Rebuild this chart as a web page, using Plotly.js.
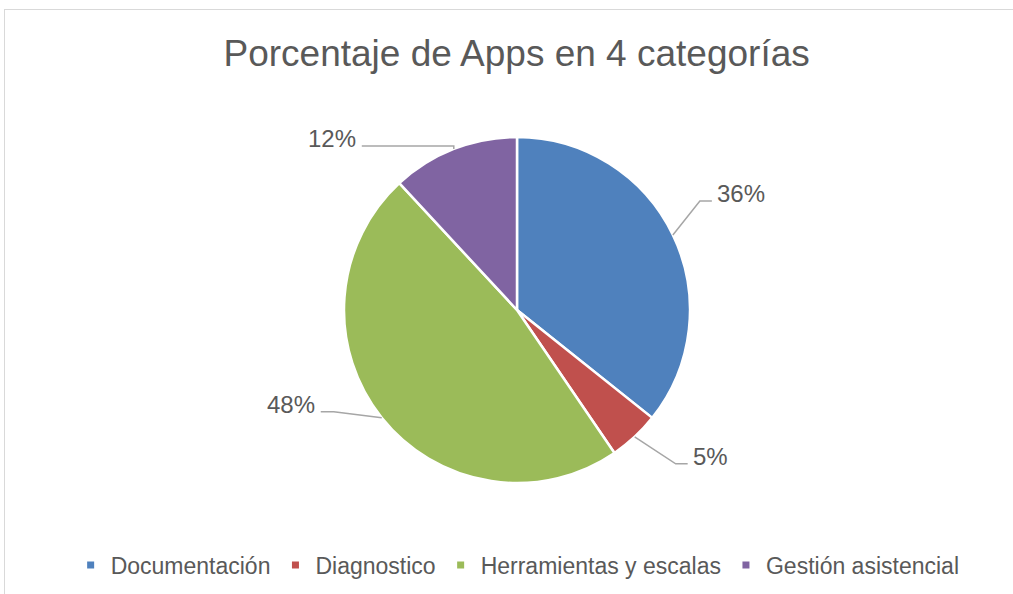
<!DOCTYPE html>
<html>
<head>
<meta charset="utf-8">
<script src="https://cdn.plot.ly/plotly-3.0.1.min.js"></script>
<style>
html,body{margin:0;padding:0;background:#fff;overflow:hidden;width:1013px;height:594px;}
#wrap{position:relative;width:1013px;height:594px;overflow:hidden;}
#chart{position:absolute;left:0;top:0;width:1013px;height:594px;}
#frame{position:absolute;left:4px;top:9px;width:1100px;height:700px;border-top:1px solid #D9D9D9;border-left:1px solid #D9D9D9;pointer-events:none;}
</style>
</head>
<body>
<div id="wrap"><div id="chart"></div><div id="frame"></div></div>
<script>
// ---- data ----
const categories = ["Documentación", "Diagnostico", "Herramientas y escalas", "Gestión asistencial"];
const values = [30, 4, 40, 10];
const colors = ["#4F81BD", "#C0504D", "#9BBB59", "#8064A2"];
const titleText = "Porcentaje de Apps en 4 categorías";

// ---- layout / style (pixels) ----
const W = 1013, H = 594;
const cx = 517, cy = 310, R = 173;
// per-label leader style: elbow offset from slice edge, horizontal run
const labelElbow = [[27, -34], [41, 27], [-48, -6], [0, -3]];
const labelRun = [12, 12, -13, -92];
const textColor = "#595959";

const px = x => x / W;
const py = y => 1 - y / H;

const total = values.reduce((a, b) => a + b, 0);
const shapes = [];
const annotations = [];
let acc = 0;
values.forEach((v, i) => {
  const mid = (acc + v / 2) / total * 2 * Math.PI;
  acc += v;
  const ax = cx + R * Math.sin(mid), ay = cy - R * Math.cos(mid);
  const ex = ax + labelElbow[i][0], ey = ay + labelElbow[i][1];
  const hx = ex + labelRun[i];
  shapes.push({
    type: "path", xref: "paper", yref: "paper",
    path: `M${px(ax)},${py(ay)} L${px(ex)},${py(ey)} L${px(hx)},${py(ey)}`,
    line: {color: "#A6A6A6", width: 1.5}
  });
  const pct = Math.round(v / total * 100) + "%";
  const right = labelRun[i] >= 0;
  annotations.push({
    xref: "paper", yref: "paper",
    x: px(hx + (right ? 3 : -4)), y: py(ey - 7),
    xanchor: right ? "left" : "right", yanchor: "middle",
    text: pct, showarrow: false,
    font: {family: "Liberation Sans, Arial, sans-serif", size: 24, color: textColor}
  });
});

const traces = [{
  type: "pie",
  labels: categories,
  values: values,
  sort: false,
  direction: "clockwise",
  rotation: 0,
  textinfo: "none",
  hoverinfo: "label+percent",
  showlegend: false,
  marker: {colors: colors, line: {color: "#FFFFFF", width: 2.5}},
  domain: {x: [px(cx - R), px(cx + R)], y: [py(cy + R), py(cy - R)]}
}];
categories.forEach((c, i) => {
  traces.push({
    type: "scatter", mode: "markers", x: [null], y: [null], name: c,
    marker: {symbol: "square", size: 7, color: colors[i]},
    showlegend: true, hoverinfo: "skip"
  });
});

const layout = {
  width: W, height: H,
  margin: {l: 0, r: 0, t: 0, b: 0},
  paper_bgcolor: "#FFFFFF", plot_bgcolor: "rgba(0,0,0,0)",
  title: {text: titleText, x: 0.51, xanchor: "center", y: py(53), yanchor: "middle",
    font: {family: "Liberation Sans, Arial, sans-serif", size: 37, color: textColor}},
  xaxis: {visible: false, range: [0, 1]},
  yaxis: {visible: false, range: [0, 1]},
  showlegend: true,
  legend: {orientation: "h", x: 0.511, xanchor: "center", y: py(565), yanchor: "middle",
    font: {family: "Liberation Sans, Arial, sans-serif", size: 23, color: textColor},
    itemwidth: 30, traceorder: "normal", bgcolor: "rgba(0,0,0,0)"},
  shapes: shapes,
  annotations: annotations
};

Plotly.newPlot("chart", traces, layout, {displayModeBar: false, staticPlot: true});
</script>
</body>
</html>
